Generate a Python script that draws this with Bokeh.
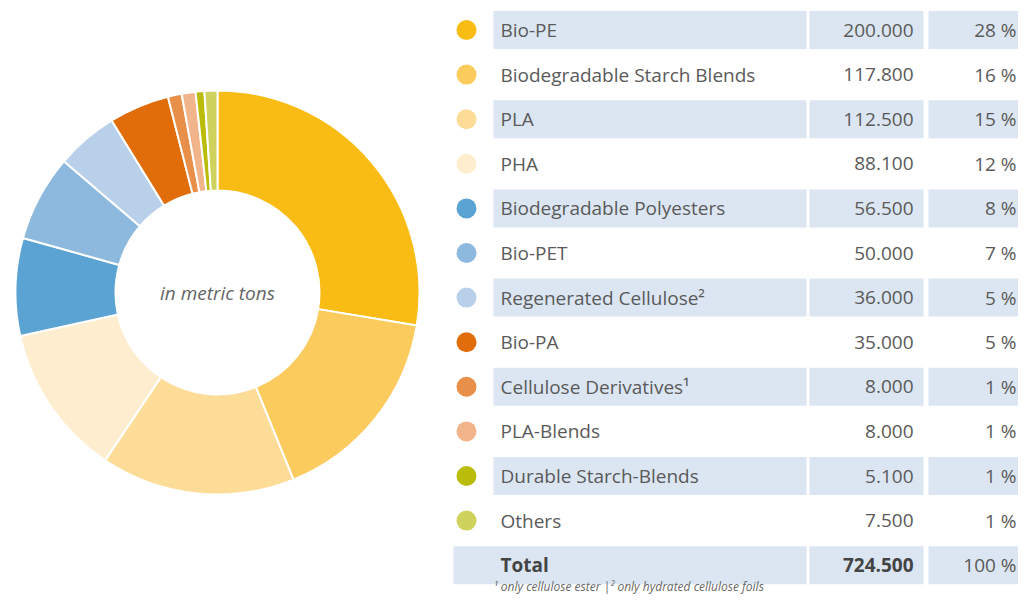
import math
from bokeh.plotting import figure
from bokeh.models import ColumnDataSource, Range1d
from bokeh.core.properties import value
from bokeh.embed import file_html
from bokeh.resources import INLINE

categories = ["Bio-PE", "Biodegradable Starch Blends", "PLA", "PHA",
              "Biodegradable Polyesters", "Bio-PET", "Regenerated Cellulose\u00b2",
              "Bio-PA", "Cellulose Derivatives\u00b9", "PLA-Blends",
              "Durable Starch-Blends", "Others"]
tons = [200000, 117800, 112500, 88100, 56500, 50000, 36000, 35000, 8000, 8000, 5100, 7500]
percent_labels = ["28 %", "16 %", "15 %", "12 %", "8 %", "7 %", "5 %", "5 %", "1 %", "1 %", "1 %", "1 %"]
colors = ["#F9BC15", "#FCCB5E", "#FDDC97", "#FEEDCF", "#5BA3D3", "#8DB9DF",
          "#B8D0EA", "#E06D0A", "#E8904A", "#F2B48A", "#BBBB0A", "#CFD25C"]
total_label = "Total"
total_pct = "100 %"
center_text = "in metric tons"
footnote = "\u00b9 only cellulose ester  |\u00b2 only hydrated cellulose foils"

W, H = 1018, 595
p = figure(width=W, height=H, output_backend="svg", toolbar_location=None,
           x_range=Range1d(0, W), y_range=Range1d(0, H), min_border=0)
p.axis.visible = False
p.xgrid.visible = False
p.ygrid.visible = False
p.outline_line_color = None
p.background_fill_color = "white"

FONT = "Open Sans"
TXT = "#5a5a5a"

# ---- donut ----
total = sum(tons)
cum = 0
starts, ends = [], []
for v in tons:
    a0 = math.pi / 2 - 2 * math.pi * cum / total
    cum += v
    a1 = math.pi / 2 - 2 * math.pi * cum / total
    starts.append(a1)
    ends.append(a0)
cx, cy = 217, 303
donut = ColumnDataSource(dict(start=starts, end=ends, color=colors, name=categories))
p.annular_wedge(x=cx, y=cy, inner_radius=102, outer_radius=202,
                start_angle="start", end_angle="end", fill_color="color",
                line_color="white", line_width=2, source=donut)
p.text(x=[cx], y=[cy], text=[center_text], text_align="center", text_baseline="middle",
       text_font=value(FONT), text_font_style="italic", text_font_size="19px",
       text_color="#666666")

# ---- table ----
n = len(categories)
row_y = [H - (29.5 + i * 44.6) for i in range(n + 1)]
fmt = lambda v: f"{v:,}".replace(",", ".")
vals_txt = [fmt(v) for v in tons]

band_idx = [i for i in range(n) if i % 2 == 0]
band_color = "#DCE6F2"
bh = 38
for left, right in [(493, 806), (809, 923), (928, 1030)]:
    p.quad(left=[left] * len(band_idx), right=[right] * len(band_idx),
           bottom=[row_y[i] - bh / 2 for i in band_idx], top=[row_y[i] + bh / 2 for i in band_idx],
           fill_color=band_color, line_color=None)
ty = row_y[n]
p.quad(left=[453, 809, 928], right=[806, 923, 1030],
       bottom=[ty - bh / 2] * 3, top=[ty + bh / 2] * 3,
       fill_color=band_color, line_color=None)

tbl = ColumnDataSource(dict(y=row_y[:n], name=categories, val=vals_txt,
                            pct=percent_labels, color=colors))
p.scatter(x=466, y="y", size=20, fill_color="color", line_color=None, source=tbl)
p.text(x=500, y="y", text="name", text_align="left", text_baseline="middle",
       text_font=value(FONT), text_font_size="19px", text_color=TXT, source=tbl)
p.text(x=913, y="y", text="val", text_align="right", text_baseline="middle",
       text_font=value(FONT), text_font_size="19px", text_color=TXT, source=tbl)
p.text(x=1016, y="y", text="pct", text_align="right", text_baseline="middle",
       text_font=value(FONT), text_font_size="19px", text_color=TXT, source=tbl)

p.text(x=[500], y=[ty], text=[total_label], text_align="left", text_baseline="middle",
       text_font=value(FONT), text_font_style="bold", text_font_size="19px", text_color="#444444")
p.text(x=[913], y=[ty], text=[fmt(total)], text_align="right", text_baseline="middle",
       text_font=value(FONT), text_font_style="bold", text_font_size="19px", text_color="#444444")
p.text(x=[1016], y=[ty], text=[total_pct], text_align="right", text_baseline="middle",
       text_font=value(FONT), text_font_size="19px", text_color=TXT)

p.text(x=[493], y=[1], text=[footnote], text_align="left", text_baseline="bottom",
       text_font=value(FONT), text_font_style="italic", text_font_size="12px", text_color="#666666")

open("out.html", "w").write(file_html(p, INLINE))
